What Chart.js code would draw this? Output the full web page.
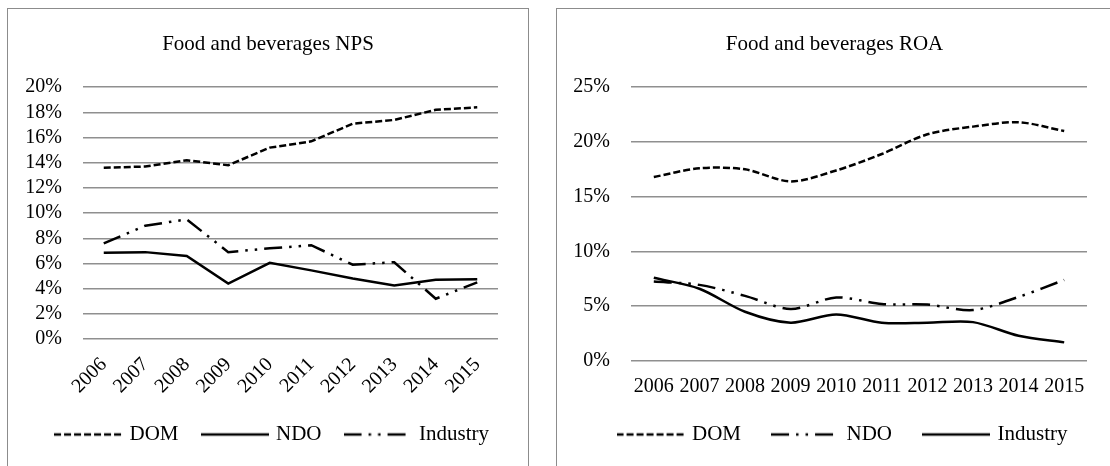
<!DOCTYPE html>
<html>
<head>
<meta charset="utf-8">
<script src="https://cdn.jsdelivr.net/npm/chart.js@4.4.1/dist/chart.umd.min.js"></script>
<style>
  body { margin: 0; background: #fff; width: 1110px; height: 466px; overflow: hidden; position: relative; }
  .box { position: absolute; top: 8px; height: 470px; border: 1px solid #8c8c8c; background: #fff; }
  #boxNps { left: 7px; width: 520px; }
  #boxRoa { left: 556px; width: 556px; }
  canvas { display: block; }
</style>
</head>
<body>
<div class="box" id="boxNps"><canvas id="npsChart" width="520" height="457"></canvas></div>
<div class="box" id="boxRoa"><canvas id="roaChart" width="555" height="457"></canvas></div>
<script>
// categories
const years = ['2006', '2007', '2008', '2009', '2010', '2011', '2012', '2013', '2014', '2015'];

// NPS panel (percent)
const npsDom = [13.6, 13.7, 14.2, 13.8, 15.2, 15.7, 17.1, 17.4, 18.2, 18.4];
const npsNdo = [6.85, 6.9, 6.6, 4.4, 6.05, 5.45, 4.8, 4.25, 4.7, 4.75];
const npsIndustry = [7.6, 9.0, 9.5, 6.9, 7.2, 7.45, 5.9, 6.1, 3.2, 4.5];
const npsTicks = [0, 20, 2]; // min, max, step

// ROA panel (percent)
const roaDom = [16.8, 17.6, 17.5, 16.4, 17.4, 18.9, 20.7, 21.4, 21.8, 21.0];
const roaNdo = [7.25, 6.95, 5.95, 4.75, 5.8, 5.2, 5.15, 4.65, 5.85, 7.4];
const roaIndustry = [7.6, 6.6, 4.5, 3.5, 4.25, 3.5, 3.5, 3.55, 2.3, 1.7];
const roaTicks = [0, 25, 5];

const FONT = "'Liberation Serif', 'Times New Roman', serif";
const SHORT_DASH = [7, 3];
const DASH_DOT_DOT = [18, 7, 2.5, 7, 2.5, 7];

Chart.defaults.font.family = FONT;
Chart.defaults.font.size = 20;
Chart.defaults.color = '#000';

function legendLine(dash, width) {
  const c = document.createElement('canvas');
  c.width = 68;
  c.height = 6;
  const g = c.getContext('2d');
  g.strokeStyle = '#000';
  g.lineWidth = width;
  g.setLineDash(dash);
  g.beginPath();
  g.moveTo(0, 3);
  g.lineTo(68, 3);
  g.stroke();
  return c;
}

// nudge the legend after layout (Excel legend sits a bit right of centre)
const legendShift = {
  id: 'legendShift',
  afterLayout(chart, args, opts) {
    const l = chart.legend;
    l.left += opts.dx;
    l.right += opts.dx;
    l.top += opts.dy;
    l.bottom += opts.dy;
  }
};

function series(label, data, dash) {
  return {
    label: label,
    data: data,
    borderColor: '#000',
    backgroundColor: '#000',
    borderWidth: 2.5,
    borderDash: dash,
    pointRadius: 0,
    fill: false
  };
}

function makeChart(id, o) {
  return new Chart(document.getElementById(id), {
    type: 'line',
    data: { labels: years, datasets: o.datasets },
    plugins: [legendShift],
    options: {
      responsive: false,
      animation: false,
      devicePixelRatio: 1,
      layout: { padding: { left: 0, right: 0, top: 0, bottom: o.bottomPad } },
      elements: { line: { tension: o.tension } },
      plugins: {
        legendShift: { dx: o.legendDx, dy: o.legendDy },
        title: {
          display: true,
          text: o.title,
          color: '#000',
          font: { size: 21, weight: 'normal' },
          padding: { top: 23, bottom: 30 }
        },
        legend: {
          position: 'bottom',
          labels: {
            usePointStyle: true,
            pointStyleWidth: 62,
            padding: o.legendGap,
            color: '#000',
            font: { size: 21 },
            generateLabels: (chart) => chart.data.datasets.map((ds, i) => ({
              text: ds.label,
              pointStyle: legendLine(ds.borderDash || [], ds.borderWidth),
              fillStyle: '#000',
              strokeStyle: '#000',
              lineWidth: 0,
              hidden: false,
              datasetIndex: i,
              fontColor: '#000'
            }))
          }
        },
        tooltip: { enabled: false }
      },
      scales: {
        x: {
          offset: true,
          grid: { display: false },
          border: { display: false },
          ticks: {
            autoSkip: false,
            minRotation: o.rotation,
            maxRotation: o.rotation,
            padding: o.xPad,
            font: { size: 20 }
          },
          afterFit: (s) => { s.height = o.xHeight; }
        },
        y: {
          min: o.ticks[0],
          max: o.ticks[1],
          grid: { color: '#8f8f8f', lineWidth: 1.5, drawTicks: false },
          border: { display: false },
          ticks: {
            stepSize: o.ticks[2],
            autoSkip: false,
            padding: 21,
            font: { size: 20 },
            callback: (v) => v + '%'
          },
          afterFit: (s) => { s.width = o.yWidth; }
        },
        yr: {
          position: 'right',
          display: true,
          grid: { display: false },
          border: { display: false },
          ticks: { display: false },
          afterFit: (s) => { s.width = o.rightPad; }
        }
      }
    }
  });
}

makeChart('npsChart', {
  title: 'Food and beverages NPS',
  datasets: [
    series('DOM', npsDom, SHORT_DASH),
    series('NDO', npsNdo, []),
    series('Industry', npsIndustry, DASH_DOT_DOT)
  ],
  ticks: npsTicks,
  tension: 0,
  rotation: 45,
  xPad: 6,
  xHeight: 60,
  yWidth: 75,
  rightPad: 30,
  bottomPad: 11,
  legendGap: 25,
  legendDx: 5,
  legendDy: 0
});

makeChart('roaChart', {
  title: 'Food and beverages ROA',
  datasets: [
    series('DOM', roaDom, SHORT_DASH),
    series('NDO', roaNdo, DASH_DOT_DOT),
    series('Industry', roaIndustry, [])
  ],
  ticks: roaTicks,
  tension: 0.3,
  rotation: 0,
  xPad: 6,
  xHeight: 34,
  yWidth: 74,
  rightPad: 25,
  bottomPad: 7,
  legendGap: 33,
  legendDx: 9,
  legendDy: -4
});
</script>
</body>
</html>
